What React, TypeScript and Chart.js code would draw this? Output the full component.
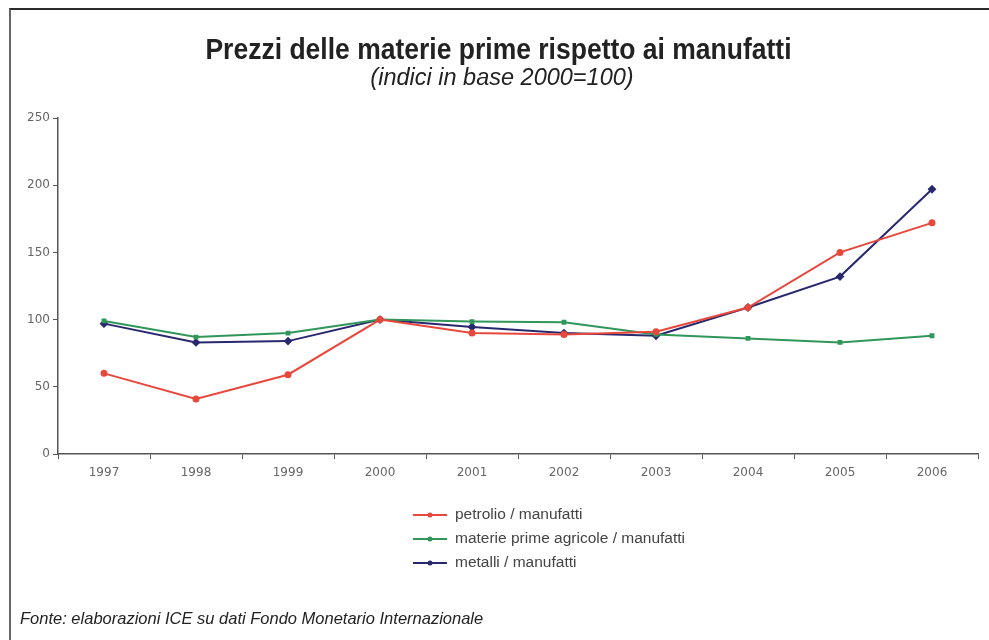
import React, { useEffect, useRef } from "react";
import { Chart, registerables } from "chart.js";

Chart.register(...registerables);

const years = ["1997", "1998", "1999", "2000", "2001", "2002", "2003", "2004", "2005", "2006"];
const petrolio = [60, 41, 59, 100, 90, 89, 91, 109, 150, 172];
const agricole = [99, 87, 90, 100, 98.5, 98, 89, 86, 83, 88];
const metalli = [97, 83, 84, 100, 94.5, 90, 88, 109, 132, 197];
const seriesNames = [
  "petrolio / manufatti",
  "materie prime agricole / manufatti",
  "metalli / manufatti",
];
const yTicks = [0, 50, 100, 150, 200, 250];

const RED = "rgb(232,72,60)";
const GREEN = "rgb(48,150,90)";
const NAVY = "rgb(40,40,110)";

const legendPlugin = {
  id: "vertLegend",
  afterDraw(chart: any) {
    const ctx = chart.ctx;
    const x0 = 413;
    const x1 = 447;
    const rows = [515, 539, 563];
    ctx.save();
    chart.data.datasets.forEach((ds: any, i: number) => {
      const y = rows[i];
      ctx.strokeStyle = ds.borderColor;
      ctx.lineWidth = 2;
      ctx.beginPath();
      ctx.moveTo(x0, y);
      ctx.lineTo(x1, y);
      ctx.stroke();
      ctx.fillStyle = ds.borderColor;
      ctx.beginPath();
      ctx.arc((x0 + x1) / 2, y, 2.5, 0, Math.PI * 2);
      ctx.fill();
      ctx.fillStyle = "#444";
      ctx.font = "15.5px 'Liberation Sans', Arial, sans-serif";
      ctx.textBaseline = "middle";
      ctx.textAlign = "left";
      ctx.fillText(ds.label, 455, y);
    });
    ctx.restore();
  },
};

export default function App() {
  const ref = useRef<HTMLCanvasElement | null>(null);
  useEffect(() => {
    if (!ref.current) return;
    const chart = new Chart(ref.current, {
      type: "line",
      data: {
        labels: years,
        datasets: [
          { label: seriesNames[0], data: petrolio, borderColor: RED, backgroundColor: RED, borderWidth: 2, pointRadius: 2.5, pointStyle: "circle", tension: 0 },
          { label: seriesNames[1], data: agricole, borderColor: GREEN, backgroundColor: GREEN, borderWidth: 2, pointRadius: 2, pointStyle: "rect", tension: 0 },
          { label: seriesNames[2], data: metalli, borderColor: NAVY, backgroundColor: NAVY, borderWidth: 2, pointRadius: 3, pointStyle: "rectRot", tension: 0 },
        ],
      },
      options: {
        animation: false,
        responsive: false,
        maintainAspectRatio: false,
        layout: { padding: { left: 0, right: 11, top: 118, bottom: 146 } },
        plugins: {
          legend: { display: false },
          title: { display: false },
          tooltip: { enabled: false },
        },
        scales: {
          x: {
            type: "category",
            offset: true,
            grid: { display: true, drawOnChartArea: false, drawTicks: true, tickLength: 5, color: "#555", offset: true },
            border: { display: true, color: "#555", width: 1.5 },
            ticks: { color: "#666", font: { family: "'DejaVu Sans'", size: 12 }, padding: 7, maxRotation: 0 },
            afterFit(scale: any) { scale.height = 40; },
          },
          y: {
            type: "linear",
            min: 0,
            max: 250,
            afterBuildTicks(scale: any) { scale.ticks = yTicks.map((v) => ({ value: v })); },
            grid: { display: true, drawOnChartArea: false, drawTicks: true, tickLength: 5, color: "#555" },
            border: { display: true, color: "#555", width: 1.5 },
            ticks: { color: "#666", font: { family: "'DejaVu Sans'", size: 12 }, padding: 3 },
            afterFit(scale: any) { scale.width = 58; },
          },
        },
      },
      plugins: [legendPlugin],
    });
    return () => chart.destroy();
  }, []);

  return (
    <div style={{ position: "fixed", left: 0, top: 0, width: 989, height: 640, overflow: "hidden", background: "#fff" }}>
      <canvas ref={ref} width={989} height={640} style={{ position: "absolute", left: 0, top: 0, width: 989, height: 640 }} />
      <div style={{ position: "absolute", left: 9, top: 8, width: 1100, height: 800, borderTop: "2px solid #2a2a2a", borderLeft: "2px solid #666", pointerEvents: "none" }} />
      <div style={{ position: "absolute", left: 0, width: 997, top: 33, textAlign: "center", font: "bold 26.5px 'Liberation Sans', Arial, sans-serif", lineHeight: "32px", color: "#222", transform: "scaleY(1.08)" }}>
        Prezzi delle materie prime rispetto ai manufatti
      </div>
      <div style={{ position: "absolute", left: 0, width: 1004, top: 63, textAlign: "center", font: "italic 23.5px 'Liberation Sans', Arial, sans-serif", lineHeight: "28px", color: "#222" }}>
        (indici in base 2000=100)
      </div>
      <div style={{ position: "absolute", left: 20, top: 608, font: "italic 16.5px 'Liberation Sans', Arial, sans-serif", lineHeight: "20px", color: "#222" }}>
        Fonte: elaborazioni ICE su dati Fondo Monetario Internazionale
      </div>
    </div>
  );
}
